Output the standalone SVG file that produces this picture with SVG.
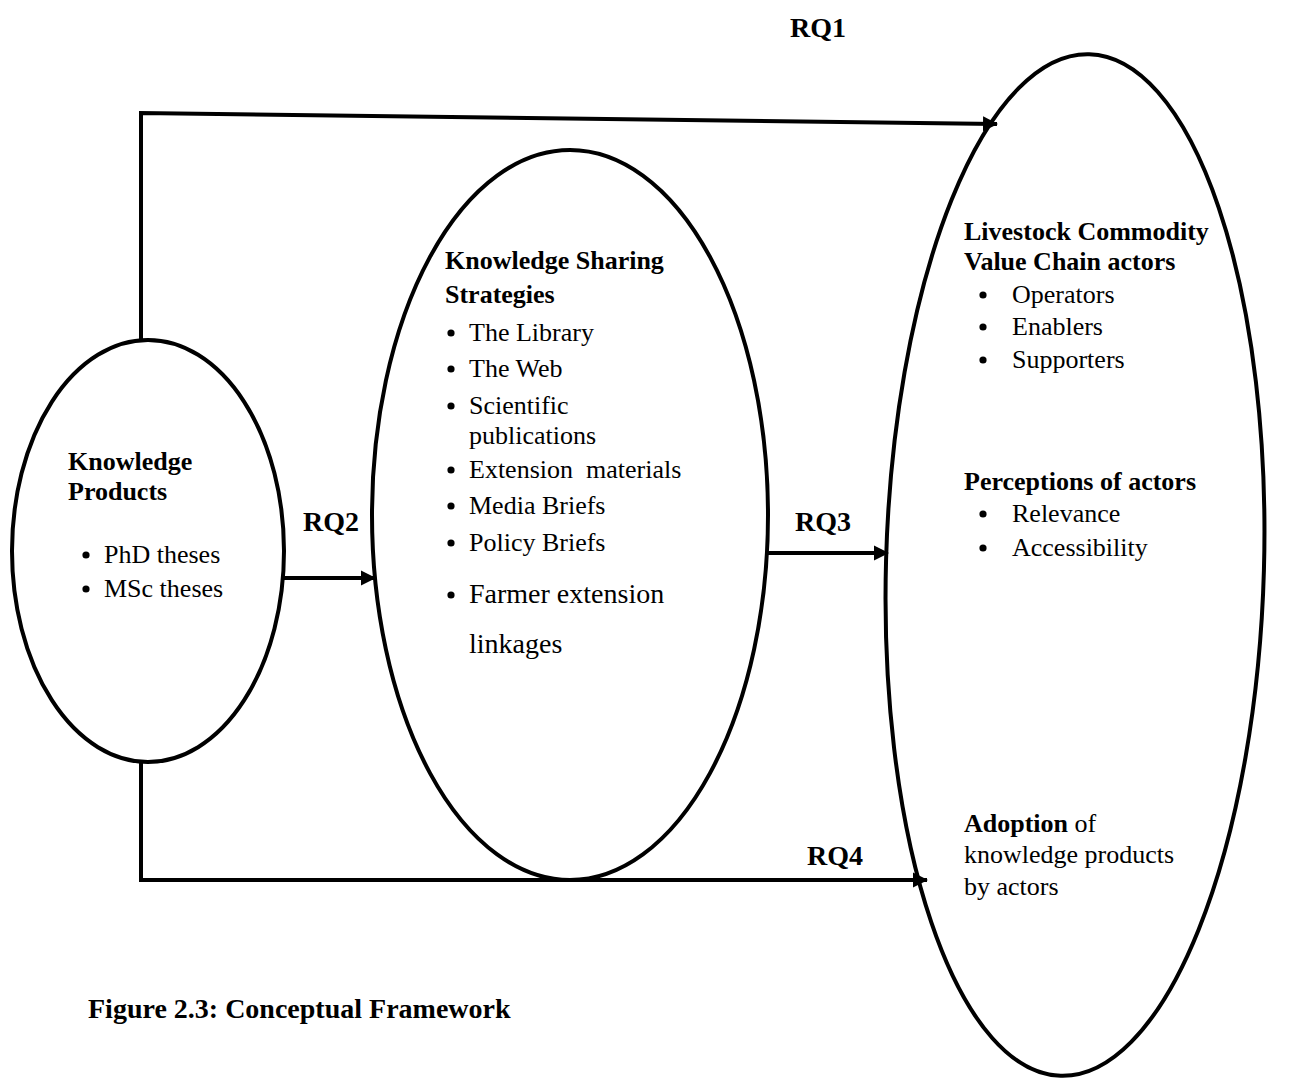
<svg xmlns="http://www.w3.org/2000/svg" width="1293" height="1079" viewBox="0 0 1293 1079">
<defs>
<style>
.node{fill:none;stroke:#000;stroke-width:4}
.conn{fill:none;stroke:#000;stroke-width:4}
.dot{fill:#000}
text{font-family:"Liberation Serif","Times New Roman",serif;fill:#000}
.b{font-weight:bold;font-size:26px}
.r{font-size:26px}
.rq{font-weight:bold;font-size:28px}
.big{font-size:28px}
</style>
<marker id="arr" markerWidth="16" markerHeight="16" refX="14" refY="8" orient="auto" markerUnits="userSpaceOnUse">
<path d="M0,0.5 L15,8 L0,15.5 Z" fill="#000"/>
</marker>
</defs>
<rect width="1293" height="1079" fill="#fff"/>
<g id="connectors">
<polyline class="conn" points="141,340 141,113 997,124" marker-end="url(#arr)"/>
<polyline class="conn" points="141,762 141,880 927,880" marker-end="url(#arr)"/>
<line class="conn" x1="284" y1="578" x2="375" y2="578" marker-end="url(#arr)"/>
<line class="conn" x1="768" y1="553" x2="888" y2="553" marker-end="url(#arr)"/>
</g>
<g id="knowledge-products">
<ellipse class="node" cx="148" cy="551" rx="136" ry="211"/>
<text class="b" x="68" y="470">Knowledge</text>
<text class="b" x="68" y="500">Products</text>
<circle class="dot" cx="86" cy="555" r="3.6"/>
<text class="r" x="104" y="563">PhD theses</text>
<circle class="dot" cx="86" cy="589" r="3.6"/>
<text class="r" x="104" y="597">MSc theses</text>
</g>
<g id="sharing-strategies">
<ellipse class="node" cx="570" cy="515" rx="198" ry="365"/>
<text class="b" x="445" y="269">Knowledge Sharing</text>
<text class="b" x="445" y="303">Strategies</text>
<circle class="dot" cx="451" cy="333" r="3.6"/><text class="r" x="469" y="341">The Library</text>
<circle class="dot" cx="451" cy="369" r="3.6"/><text class="r" x="469" y="377">The Web</text>
<circle class="dot" cx="451" cy="406" r="3.6"/><text class="r" x="469" y="414">Scientific</text>
<text class="r" x="469" y="444">publications</text>
<circle class="dot" cx="451" cy="470" r="3.6"/><text class="r" x="469" y="478" xml:space="preserve">Extension  materials</text>
<circle class="dot" cx="451" cy="506" r="3.6"/><text class="r" x="469" y="514">Media Briefs</text>
<circle class="dot" cx="451" cy="543" r="3.6"/><text class="r" x="469" y="551">Policy Briefs</text>
<circle class="dot" cx="451" cy="595" r="3.6"/><text class="big" x="469" y="603">Farmer extension</text>
<text class="big" x="469" y="653">linkages</text>
</g>
<g id="value-chain-actors">
<ellipse class="node" cx="1075" cy="565" rx="189" ry="511" transform="rotate(1.6 1075 565)"/>
<text class="b" x="964" y="240">Livestock Commodity</text>
<text class="b" x="964" y="270">Value Chain actors</text>
<circle class="dot" cx="983" cy="295" r="3.6"/><text class="r" x="1012" y="303">Operators</text>
<circle class="dot" cx="983" cy="327" r="3.6"/><text class="r" x="1012" y="335">Enablers</text>
<circle class="dot" cx="983" cy="360" r="3.6"/><text class="r" x="1012" y="368">Supporters</text>
<text class="b" x="964" y="490">Perceptions of actors</text>
<circle class="dot" cx="983" cy="514" r="3.6"/><text class="r" x="1012" y="522">Relevance</text>
<circle class="dot" cx="983" cy="548" r="3.6"/><text class="r" x="1012" y="556">Accessibility</text>
<text class="r" x="964" y="832"><tspan font-weight="bold">Adoption</tspan> of</text>
<text class="r" x="964" y="863">knowledge products</text>
<text class="r" x="964" y="895">by actors</text>
</g>
<g id="labels">
<text class="rq" x="790" y="37">RQ1</text>
<text class="rq" x="303" y="531">RQ2</text>
<text class="rq" x="795" y="531">RQ3</text>
<text class="rq" x="807" y="865">RQ4</text>
<text class="rq" x="88" y="1018">Figure 2.3: Conceptual Framework</text>
</g>
</svg>
